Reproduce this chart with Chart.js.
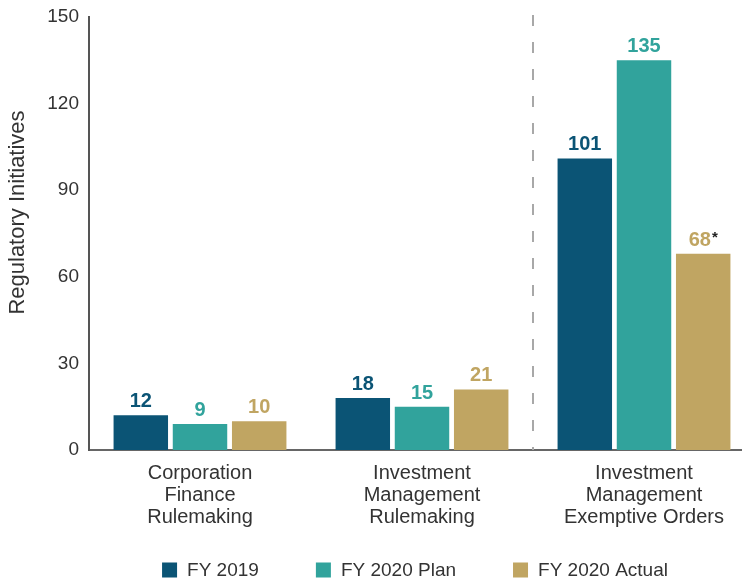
<!DOCTYPE html>
<html><head><meta charset="utf-8">
<script src="https://cdn.jsdelivr.net/npm/chart.js@4.4.1/dist/chart.umd.min.js"></script>
<style>
html,body{margin:0;padding:0;background:#fff;overflow:hidden;width:742px;height:580px;}
#wrap{position:relative;width:760px;height:580px;}
</style></head><body>
<div id="wrap"><canvas id="c" width="760" height="580"></canvas></div>
<script>
const categories = [["Corporation","Finance","Rulemaking"],["Investment","Management","Rulemaking"],["Investment","Management","Exemptive Orders"]];
const seriesNames = ["FY 2019","FY 2020 Plan","FY 2020 Actual"];
const fy2019 = [12, 18, 101];
const fy2020Plan = [9, 15, 135];
const fy2020Actual = [10, 21, 68];
const actualNotes = ["", "", "*"];
const yTicks = [0, 30, 60, 90, 120, 150];
const yTitle = "Regulatory Initiatives";

const colors = ["#0b5475", "#31a39c", "#c0a562"];
const FONT = "'Liberation Sans', Arial, sans-serif";
const TEXT = "#333333";

const dataLabels = {
  id: "dataLabels",
  afterDatasetsDraw(chart) {
    const ctx = chart.ctx;
    ctx.save();
    chart.data.datasets.forEach((ds, i) => {
      const meta = chart.getDatasetMeta(i);
      meta.data.forEach((bar, j) => {
        const txt = String(ds.data[j]);
        const note = (ds.notes && ds.notes[j]) || "";
        ctx.font = "bold 20px " + FONT;
        const w = ctx.measureText(txt).width;
        ctx.font = "bold 15px " + FONT;
        const nw = note ? ctx.measureText(note).width + 1 : 0;
        const x = bar.x - nw / 2;
        const y = bar.y - 8;
        ctx.font = "bold 20px " + FONT;
        ctx.fillStyle = ds.backgroundColor;
        ctx.textAlign = "center";
        ctx.textBaseline = "alphabetic";
        ctx.fillText(txt, x, y);
        if (note) {
          ctx.font = "bold 15px " + FONT;
          ctx.fillStyle = "#222";
          ctx.textAlign = "left";
          ctx.fillText(note, x + w / 2 + 1, y - 4);
        }
      });
    });
    ctx.restore();
  }
};

const divider = {
  id: "divider",
  beforeDatasetsDraw(chart) {
    const xs = chart.scales.x, a = chart.chartArea, ctx = chart.ctx;
    const x = (xs.getPixelForTick(1) + xs.getPixelForTick(2)) / 2;
    ctx.save();
    ctx.strokeStyle = "#a8a8a8";
    ctx.lineWidth = 2;
    ctx.setLineDash([11, 16]);
    ctx.beginPath();
    ctx.moveTo(x, a.top - 2);
    ctx.lineTo(x, a.bottom);
    ctx.stroke();
    ctx.restore();
  }
};

const yTitlePlugin = {
  id: "yTitlePlugin",
  afterDraw(chart) {
    const ctx = chart.ctx, a = chart.chartArea;
    ctx.save();
    ctx.translate(18, (a.top + a.bottom) / 2 - 21);
    ctx.rotate(-Math.PI / 2);
    ctx.font = "22px " + FONT;
    ctx.fillStyle = TEXT;
    ctx.textAlign = "center";
    ctx.textBaseline = "middle";
    ctx.fillText(yTitle, 0, 0);
    ctx.restore();
  }
};

const customLegend = {
  id: "customLegend",
  afterDraw(chart) {
    const ctx = chart.ctx, a = chart.chartArea;
    const box = 15, gapText = 10, gapItem = 57, cy = 570;
    ctx.save();
    ctx.font = "19px " + FONT;
    const widths = chart.data.datasets.map(ds => box + gapText + ctx.measureText(ds.label).width);
    const total = widths.reduce((s, v) => s + v, 0) + gapItem * (widths.length - 1);
    let x = (a.left + a.right) / 2 - 7 - total / 2;
    chart.data.datasets.forEach((ds, i) => {
      ctx.fillStyle = ds.backgroundColor;
      ctx.fillRect(x, cy - box / 2, box, box);
      ctx.fillStyle = TEXT;
      ctx.textAlign = "left";
      ctx.textBaseline = "middle";
      ctx.fillText(ds.label, x + box + gapText, cy + 1);
      x += widths[i] + gapItem;
    });
    ctx.restore();
  }
};

new Chart(document.getElementById("c"), {
  type: "bar",
  data: {
    labels: categories,
    datasets: [
      { label: seriesNames[0], data: fy2019, backgroundColor: colors[0] },
      { label: seriesNames[1], data: fy2020Plan, backgroundColor: colors[1] },
      { label: seriesNames[2], data: fy2020Actual, backgroundColor: colors[2], notes: actualNotes }
    ]
  },
  options: {
    responsive: false,
    animation: false,
    devicePixelRatio: 1,
    layout: { padding: { left: 0, right: 5, top: 17, bottom: 0 } },
    datasets: { bar: { categoryPercentage: 0.8, barPercentage: 0.92 } },
    plugins: { legend: { display: false }, tooltip: { enabled: false } },
    scales: {
      x: {
        grid: { display: false, drawTicks: false },
        border: { display: true, color: "#666", width: 2 },
        ticks: { color: TEXT, font: { family: FONT, size: 20, lineHeight: 1.1 }, padding: 12, maxRotation: 0, autoSkip: false },
        afterFit(s) { s.height = 130; }
      },
      y: {
        min: 0, max: 150,
        afterBuildTicks(s) { s.ticks = yTicks.map(v => ({ value: v })); },
        grid: { display: false, drawTicks: false },
        border: { display: true, color: "#555", width: 2 },
        ticks: { color: TEXT, font: { family: FONT, size: 19 }, padding: 10 },
        title: { display: false },
        afterFit(s) { s.width = 89; s.paddingTop = 0; s.paddingBottom = 0; }
      }
    }
  },
  plugins: [divider, dataLabels, yTitlePlugin, customLegend]
});
</script>
</body></html>
